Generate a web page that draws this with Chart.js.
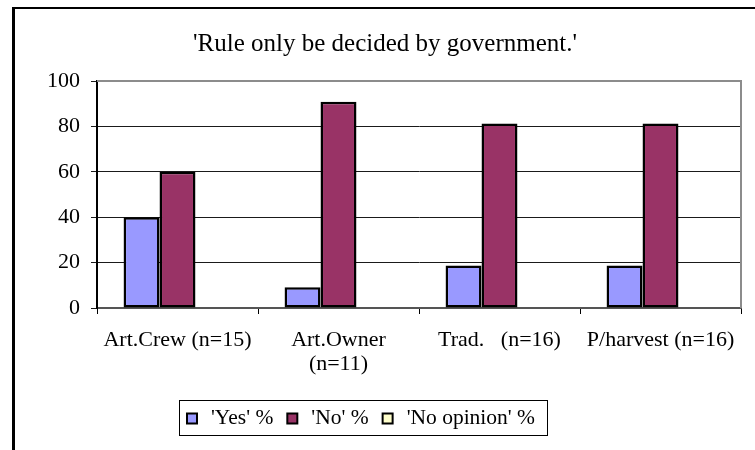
<!DOCTYPE html>
<html>
<head>
<meta charset="utf-8">
<script src="https://cdn.jsdelivr.net/npm/chart.js@4.4.1/dist/chart.umd.min.js"></script>
<style>
  html, body { margin: 0; padding: 0; background: #fff; }
  #wrap { width: 755px; height: 450px; position: relative; }
</style>
</head>
<body>
<div id="wrap"><canvas id="c" width="755" height="450"></canvas></div>
<script>
// data
const titleText = "'Rule only be decided by government.'";
const categories = ['Art.Crew (n=15)', ['Art.Owner', '(n=11)'], 'Trad.   (n=16)', 'P/harvest (n=16)'];
const seriesNames = ["'Yes' %", "'No' %", "'No opinion' %"];
const yesPct = [40, 9.09, 18.75, 18.75];
const noPct = [60, 90.91, 81.25, 81.25];
const noOpinionPct = [0, 0, 0, 0];
const yTicks = [0, 20, 40, 60, 80, 100];
const seriesColors = ['#9999FF', '#993366', '#FFFFCC'];

const FONT = "'Liberation Serif', 'Times New Roman', serif";

// frame, title, plot border and boxed legend (excel look)
const decor = {
    id: 'decor',
    afterDraw(chart) {
        const ctx = chart.ctx;
        const a = chart.chartArea;
        ctx.save();

        // plot area border: grey on top and right
        ctx.strokeStyle = '#8c8c8c';
        ctx.lineWidth = 2;
        ctx.beginPath();
        ctx.moveTo(a.left, a.top);
        ctx.lineTo(a.right, a.top);
        ctx.lineTo(a.right, a.bottom);
        ctx.stroke();

        // outer chart frame (only left and top are inside the picture)
        ctx.strokeStyle = '#000';
        ctx.lineWidth = 3;
        ctx.beginPath();
        ctx.moveTo(13.5, 460);
        ctx.lineTo(13.5, 8);
        ctx.stroke();
        ctx.lineWidth = 2;
        ctx.beginPath();
        ctx.moveTo(12, 8);
        ctx.lineTo(760, 8);
        ctx.stroke();

        // title
        ctx.fillStyle = '#000';
        ctx.font = '25px ' + FONT;
        ctx.textAlign = 'center';
        ctx.textBaseline = 'middle';
        ctx.fillText(titleText, 385, 44);

        // legend
        ctx.font = '21.5px ' + FONT;
        ctx.textAlign = 'left';
        const sq = 10, gapText = 14, gapItem = 14, padL = 8, padR = 12;
        const items = chart.data.datasets.map(ds => ({
            label: ds.label,
            color: ds.backgroundColor,
            w: ctx.measureText(ds.label).width
        }));
        let total = padL + padR;
        items.forEach((it, i) => {
            total += sq + gapText + it.w + (i < items.length - 1 ? gapItem : 0);
        });
        const cx = 363;
        const boxL = Math.round(cx - total / 2), boxT = 400, boxH = 35;
        ctx.strokeStyle = '#000';
        ctx.lineWidth = 1;
        ctx.strokeRect(boxL + 0.5, boxT + 0.5, Math.round(total), boxH);
        let x = boxL + padL;
        const midY = boxT + boxH / 2 + 1;
        items.forEach(it => {
            ctx.fillStyle = it.color;
            ctx.fillRect(x, midY - sq / 2, sq, sq);
            ctx.lineWidth = 2;
            ctx.strokeStyle = '#000';
            ctx.strokeRect(x, midY - sq / 2, sq, sq);
            x += sq + gapText;
            ctx.fillStyle = '#000';
            ctx.fillText(it.label, x, midY);
            x += it.w + gapItem;
        });
        ctx.restore();
    }
};

const seriesData = [yesPct, noPct, noOpinionPct];

new Chart(document.getElementById('c'), {
    type: 'bar',
    data: {
        labels: categories,
        datasets: seriesNames.map((name, i) => ({
            label: name,
            data: seriesData[i],
            backgroundColor: seriesColors[i],
            borderColor: '#000',
            borderWidth: 2.5,
            borderSkipped: false,
            categoryPercentage: 0.67,
            barPercentage: 1.0
        }))
    },
    options: {
        responsive: false,
        animation: false,
        layout: { padding: { left: 13, right: 14, top: 81, bottom: 52 } },
        plugins: {
            legend: { display: false },
            title: { display: false },
            tooltip: { enabled: false }
        },
        scales: {
            x: {
                grid: { offset: true, drawOnChartArea: false, drawTicks: true, tickLength: 6, color: '#000', lineWidth: 1 },
                border: { color: '#555', width: 2 },
                ticks: { color: '#000', font: { family: FONT, size: 22, lineHeight: 1.1 }, padding: 14, maxRotation: 0, autoSkip: false },
                afterFit(s) { s.height = 90; }
            },
            y: {
                min: 0,
                max: 100,
                afterBuildTicks(s) { s.ticks = yTicks.map(v => ({ value: v })); },
                grid: { color: '#1a1a1a', lineWidth: 1, tickLength: 6 },
                border: { color: '#000', width: 2 },
                ticks: { color: '#000', font: { family: FONT, size: 22 }, padding: 11 },
                afterFit(s) { s.width = 84; }
            }
        }
    },
    plugins: [decor]
});
</script>
</body>
</html>
